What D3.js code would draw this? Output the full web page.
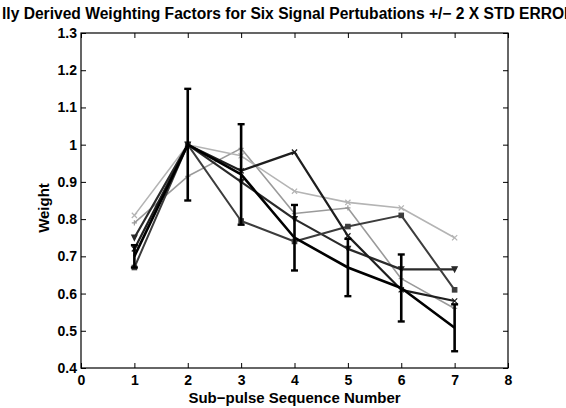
<!DOCTYPE html>
<html><head><meta charset="utf-8">
<script src="https://cdn.jsdelivr.net/npm/d3@7"></script>
<style>
html,body{margin:0;padding:0;background:#fff;overflow:hidden;}
svg{display:block;font-family:"Liberation Sans",Arial,Helvetica,sans-serif;font-weight:bold;}
</style></head>
<body>
<svg id="chart" width="566" height="408"></svg>
<script>
// ---- data ----
const titleText = "lly Derived Weighting Factors for Six Signal Pertubations +/\u2212 2 X STD ERROR";
const xLabel = "Sub\u2212pulse Sequence Number";
const yLabel = "Weight";
const subPulse = [1, 2, 3, 4, 5, 6, 7];
const xTicks = [0, 1, 2, 3, 4, 5, 6, 7, 8];
const yTicks = [0.4, 0.5, 0.6, 0.7, 0.8, 0.9, 1.0, 1.1, 1.2, 1.3];
const seriesA = [0.70, 1.00, 0.92, 0.75, 0.67, 0.615, 0.508];
const errorA  = [0.03, 0.15, 0.135, 0.088, 0.077, 0.09, 0.063];
const seriesB = [0.72, 1.00, 0.93, 0.98, 0.755, 0.61, 0.58];
const seriesC = [0.67, 1.00, 0.795, 0.74, 0.78, 0.81, 0.61];
const seriesD = [0.75, 1.00, 0.90, 0.80, 0.72, 0.665, 0.665];
const seriesE = [0.81, 1.00, 0.97, 0.875, 0.845, 0.83, 0.75];
const seriesF = [0.79, 0.915, 0.99, 0.815, 0.83, 0.64, 0.56];

const series = [
  {vals: seriesF, color: "#9a9a9a", width: 1.6, marker: "plus"},
  {vals: seriesE, color: "#b4b4b4", width: 1.6, marker: "x"},
  {vals: seriesD, color: "#2a2a2a", width: 2.2, marker: "tri"},
  {vals: seriesC, color: "#3c3c3c", width: 2.0, marker: "sq"},
  {vals: seriesB, color: "#1e1e1e", width: 2.2, marker: "x"},
  {vals: seriesA, color: "#000000", width: 2.6, marker: "none", err: errorA}
];

const svg = d3.select("#chart");
const L = 81, R = 508, T = 33, B = 368;
const x = d3.scaleLinear().domain([0, 8]).range([L, R]);
const y = d3.scaleLinear().domain([0.4, 1.3]).range([B, T]);

// title
svg.append("text").attr("x", 2).attr("y", 19)
  .attr("font-size", 15.6).attr("fill", "#000").text(titleText);

// frame
svg.append("rect").attr("x", L).attr("y", T).attr("width", R - L).attr("height", B - T)
  .attr("fill", "none").attr("stroke", "#000").attr("stroke-width", 1.2);

// axes with inward ticks
const tl = 5;
const gx = svg.append("g").attr("transform", `translate(0,${B})`)
  .call(d3.axisBottom(x).tickValues(xTicks).tickSizeInner(-tl).tickSizeOuter(0).tickPadding(8).tickFormat(d3.format("d")));
const gxt = svg.append("g").attr("transform", `translate(0,${T})`)
  .call(d3.axisTop(x).tickValues(xTicks).tickSizeInner(-tl).tickSizeOuter(0).tickFormat(""));
const gy = svg.append("g").attr("transform", `translate(${L},0)`)
  .call(d3.axisLeft(y).tickValues(yTicks).tickSizeInner(-tl).tickSizeOuter(0).tickPadding(4).tickFormat(d => d3.format("~g")(+d.toFixed(1))));
const gyr = svg.append("g").attr("transform", `translate(${R},0)`)
  .call(d3.axisRight(y).tickValues(yTicks).tickSizeInner(-tl).tickSizeOuter(0).tickFormat(""));
[gx, gxt, gy, gyr].forEach(g => {
  g.select(".domain").remove();
  g.selectAll("line").attr("stroke", "#000").attr("stroke-width", 1);
  g.selectAll("text").attr("font-size", 14).attr("font-weight", "bold").attr("fill", "#000")
    .attr("font-family", "Liberation Sans, Arial, sans-serif");
});
gx.selectAll("text").attr("dy", "0.71em").attr("y", 7);

// axis labels
svg.append("text").attr("x", (L + R) / 2).attr("y", 403).attr("text-anchor", "middle")
  .attr("font-size", 15).text(xLabel);
svg.append("text").attr("transform", `translate(49,208) rotate(-90)`).attr("text-anchor", "middle")
  .attr("font-size", 15).text(yLabel);

// lines
const line = d3.line().x((d, i) => x(subPulse[i])).y(d => y(d));
const plot = svg.append("g");
series.forEach(s => {
  plot.append("path").datum(s.vals).attr("d", line)
    .attr("fill", "none").attr("stroke", s.color).attr("stroke-width", s.width)
    .attr("stroke-linejoin", "round");
  if (s.err) {
    s.vals.forEach((v, i) => {
      const cx = x(subPulse[i]);
      const y1 = y(v + s.err[i]), y2 = y(v - s.err[i]);
      plot.append("line").attr("x1", cx).attr("x2", cx).attr("y1", y1).attr("y2", y2)
        .attr("stroke", s.color).attr("stroke-width", 2.6);
      [y1, y2].forEach(yy => plot.append("line").attr("x1", cx - 3.5).attr("x2", cx + 3.5)
        .attr("y1", yy).attr("y2", yy).attr("stroke", s.color).attr("stroke-width", 2.4));
    });
  }
  s.vals.forEach((v, i) => {
    const cx = x(subPulse[i]), cy = y(v), r = 2.6;
    const g = plot.append("g").attr("stroke", s.color).attr("stroke-width", 1.2).attr("fill", "none");
    if (s.marker === "x") {
      g.append("path").attr("d", `M${cx - r},${cy - r}L${cx + r},${cy + r}M${cx - r},${cy + r}L${cx + r},${cy - r}`);
    } else if (s.marker === "plus") {
      g.append("path").attr("d", `M${cx - r},${cy}L${cx + r},${cy}M${cx},${cy - r}L${cx},${cy + r}`);
    } else if (s.marker === "sq") {
      g.append("rect").attr("x", cx - 2.2).attr("y", cy - 2.2).attr("width", 4.4).attr("height", 4.4).attr("fill", s.color);
    } else if (s.marker === "tri") {
      g.append("path").attr("d", `M${cx - r},${cy - r}L${cx + r},${cy - r}L${cx},${cy + r}Z`).attr("fill", s.color);
    }
  });
});
</script>
</body></html>
